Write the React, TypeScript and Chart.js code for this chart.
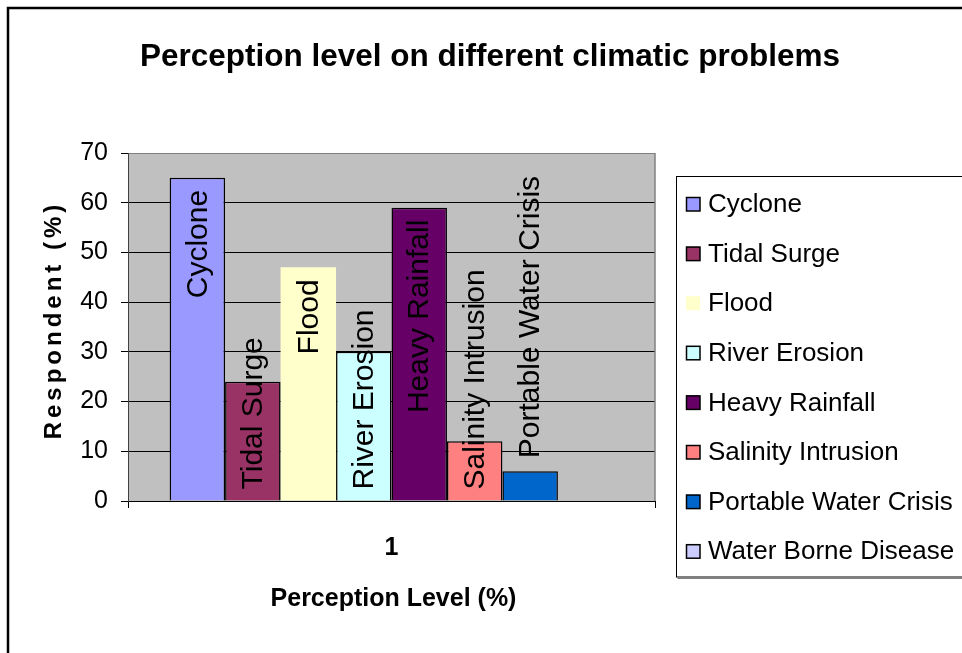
import React, { useEffect, useRef } from 'react';
import { Chart, registerables } from 'chart.js';

Chart.register(...registerables);

const categories = ['1'];
const seriesNames = [
  'Cyclone',
  'Tidal Surge',
  'Flood',
  'River Erosion',
  'Heavy Rainfall',
  'Salinity Intrusion',
  'Portable Water Crisis',
  'Water Borne Disease',
];
const seriesValues = [65, 24, 47, 30, 59, 12, 6, 0];
const seriesColors = ['#9999FF', '#993366', '#FFFFCC', '#CCFFFF', '#660066', '#FF8080', '#0066CC', '#CCCCFF'];
const seriesBorderWidths = [1.5, 1.5, 0, 1.5, 1.5, 1.5, 1.5, 1.5];
const yMin = 0;
const yMax = 70;
const yStep = 10;
const chartTitle = 'Perception level on different climatic problems';
const xAxisTitle = 'Perception Level (%)';
const yAxisTitle = 'Respondent (%)';

const FONT = '"Liberation Sans", Arial, Helvetica, sans-serif';

const decorPlugin = {
  id: 'decor',
  beforeDraw(chart: any) {
    const { ctx, chartArea: a } = chart;
    ctx.save();
    ctx.fillStyle = '#ffffff';
    ctx.fillRect(0, 0, chart.width, chart.height);
    ctx.fillStyle = '#C0C0C0';
    ctx.fillRect(a.left, a.top, a.right - a.left, a.bottom - a.top);
    ctx.restore();
  },
  beforeDatasetsDraw(chart: any) {
    const { ctx, chartArea: a } = chart;
    ctx.save();
    ctx.strokeStyle = '#808080';
    ctx.lineWidth = 1.5;
    ctx.beginPath();
    ctx.moveTo(a.right, a.top);
    ctx.lineTo(a.right, a.bottom);
    ctx.stroke();
    ctx.restore();
  },
  afterDatasetsDraw(chart: any) {
    const { ctx } = chart;
    chart.data.datasets.forEach((ds: any, i: number) => {
      const v = ds.data[0];
      if (!v) return;
      const meta = chart.getDatasetMeta(i);
      const el = meta.data[0];
      if (!el) return;
      const { x, y, base } = el.getProps(['x', 'y', 'base'], true);
      ctx.save();
      ctx.font = `30px ${FONT}`;
      ctx.fillStyle = '#000';
      const len = ctx.measureText(ds.label).width;
      const h = base - y;
      const pad = 12;
      let start: number;
      if (len + 2 * pad <= h) start = y + pad + len;
      else if (h >= 40) start = base - 11;
      else start = y - 13;
      ctx.translate(x + 1, start);
      ctx.rotate(-Math.PI / 2);
      ctx.textAlign = 'left';
      ctx.textBaseline = 'middle';
      ctx.fillText(ds.label, 0, 0);
      ctx.restore();
    });
  },
  afterDraw(chart: any) {
    const { ctx, chartArea: a } = chart;
    ctx.save();
    // chart title
    ctx.fillStyle = '#000';
    ctx.font = `bold 31.5px ${FONT}`;
    ctx.textAlign = 'center';
    ctx.textBaseline = 'alphabetic';
    ctx.fillText(chartTitle, 490, 66);

    // x axis title
    ctx.font = `bold 25px ${FONT}`;
    ctx.textBaseline = 'middle';
    ctx.fillText(xAxisTitle, (a.left + a.right) / 2 + 2, 599);

    // y axis title
    ctx.save();
    ctx.font = `bold 24px ${FONT}`;
    (ctx as any).letterSpacing = '4px';
    ctx.translate(54, 322);
    ctx.rotate(-Math.PI / 2);
    ctx.textAlign = 'center';
    ctx.textBaseline = 'middle';
    ctx.fillText(yAxisTitle, 2, 0);
    ctx.restore();

    // legend box
    const lx = 676.5;
    const ly = 176.5;
    const lb = 577;
    ctx.strokeStyle = '#000';
    ctx.lineWidth = 1;
    ctx.strokeRect(lx, ly, 400, lb - ly);
    ctx.strokeStyle = '#808080';
    ctx.lineWidth = 2;
    ctx.beginPath();
    ctx.moveTo(lx + 1, lb + 1);
    ctx.lineTo(980, lb + 1);
    ctx.stroke();

    const startY = 204;
    const stepY = 49.6;
    ctx.font = `26px ${FONT}`;
    ctx.textAlign = 'left';
    ctx.textBaseline = 'middle';
    chart.data.datasets.forEach((ds: any, i: number) => {
      const cy = startY + i * stepY;
      ctx.fillStyle = ds.backgroundColor;
      ctx.fillRect(686, cy - 7, 14, 14);
      if (ds.borderWidth > 0) {
        ctx.strokeStyle = '#000';
        ctx.lineWidth = 1.5;
        ctx.strokeRect(686.5, cy - 6.5, 13.5, 13.5);
      }
      ctx.fillStyle = '#000';
      ctx.fillText(ds.label, 708, cy + 1);
    });

    // outer border
    ctx.strokeStyle = '#000';
    ctx.lineWidth = 2.5;
    ctx.strokeRect(8, 8, 1200, 1200);
    ctx.restore();
  },
};

export default function App() {
  const canvasRef = useRef<HTMLCanvasElement | null>(null);

  useEffect(() => {
    const canvas = canvasRef.current;
    if (!canvas) return;
    const chart = new Chart(canvas, {
      type: 'bar',
      data: {
        labels: categories,
        datasets: seriesNames.map((name, i) => ({
          label: name,
          data: [seriesValues[i]],
          backgroundColor: seriesColors[i],
          borderColor: '#000',
          borderWidth: seriesBorderWidths[i],
          categoryPercentage: 0.842,
          barPercentage: 1,
        })),
      },
      options: {
        responsive: false,
        animation: false,
        layout: { padding: { left: 20, right: 307, top: 153, bottom: 52 } },
        plugins: {
          legend: { display: false },
          title: { display: false },
          tooltip: { enabled: false },
        },
        scales: {
          x: {
            ticks: {
              font: { family: FONT, size: 25, weight: 'bold' },
              color: '#000',
              padding: 25,
            },
            grid: {
              drawOnChartArea: false,
              drawTicks: true,
              tickLength: 7,
              color: '#000',
            },
            border: { display: true, color: '#000', width: 1 },
            afterFit: (s: any) => {
              s.height = 100;
            },
          },
          y: {
            min: yMin,
            max: yMax,
            ticks: {
              stepSize: yStep,
              font: { family: FONT, size: 25 },
              color: '#000',
              padding: 13,
            },
            grid: {
              color: (c: any) => (c.tick && c.tick.value === yMax ? '#808080' : '#000'),
              lineWidth: 1,
              drawTicks: true,
              tickLength: 7,
              tickColor: '#000',
            },
            border: { display: true, color: '#404040', width: 1 },
            afterFit: (s: any) => {
              s.width = 108;
            },
          },
        },
      } as any,
      plugins: [decorPlugin],
    });
    return () => chart.destroy();
  }, []);

  return (
    <div style={{ position: 'fixed', left: 0, top: 0, width: 962, height: 653, background: '#fff' }}>
      <canvas ref={canvasRef} width={962} height={653} style={{ display: 'block' }} />
    </div>
  );
}
